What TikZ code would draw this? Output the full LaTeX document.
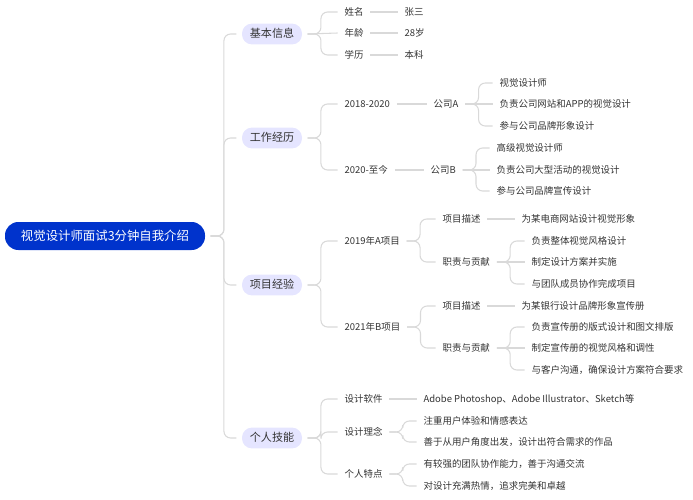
\documentclass[tikz,border=0pt]{standalone}
\usepackage{fontspec}
\setmainfont{Noto Sans CJK SC}
\begin{document}
\begin{tikzpicture}[
        x=0.75pt, y=-0.75pt,
        font=\fontsize{7.1}{9}\selectfont,
        root/.style={rounded corners=10pt, fill=blue!75!cyan!80!black, text=white, minimum width=150pt, minimum height=21pt, font=\fontsize{9.3}{11}\selectfont},
        topic/.style={rounded corners=7.5pt, fill=blue!10, text=black!80, minimum width=45pt, minimum height=15pt, text height=7pt, text depth=2pt, font=\fontsize{8.3}{10}\selectfont},
        item/.style={anchor=west, text=black!80, inner sep=1pt, text height=6.5pt, text depth=1.5pt},
        link/.style={draw=black!15, line width=0.8pt, rounded corners=5pt}
    ]
        \useasboundingbox (0,0) rectangle (693,500);

        % Root and topics
        \node[root] (root) at (105,236) {视觉设计师面试3分钟自我介绍};
        \node[topic] (basic) at (272,34) {基本信息};
        \node[topic] (work) at (272,138) {工作经历};
        \node[topic] (proj) at (272,285) {项目经验};
        \node[topic] (skill) at (272,438) {个人技能};

        % Basic info
        \node[item] (name) at (343,12) {姓名};
        \node[item] (age) at (343,33) {年龄};
        \node[item] (edu) at (343,55) {学历};
        \node[item] (namev) at (403,12) {张三};
        \node[item] (agev) at (403,33) {28岁};
        \node[item] (eduv) at (403,55) {本科};

        % Work
        \node[item] (y1) at (343,104) {2018-2020};
        \node[item] (ca) at (432,104) {公司A};
        \node[item] (ca1) at (498,83) {视觉设计师};
        \node[item] (ca2) at (498,104) {负责公司网站和APP的视觉设计};
        \node[item] (ca3) at (498,126) {参与公司品牌形象设计};
        \node[item] (y2) at (343,170) {2020-至今};
        \node[item] (cb) at (429,170) {公司B};
        \node[item] (cb1) at (495,148) {高级视觉设计师};
        \node[item] (cb2) at (495,170) {负责公司大型活动的视觉设计};
        \node[item] (cb3) at (495,191) {参与公司品牌宣传设计};

        % Projects
        \node[item] (pa) at (343,241) {2019年A项目};
        \node[item] (pad) at (441,219) {项目描述};
        \node[item] (pad1) at (520,219) {为某电商网站设计视觉形象};
        \node[item] (par) at (441,262) {职责与贡献};
        \node[item] (par1) at (530,241) {负责整体视觉风格设计};
        \node[item] (par2) at (530,262) {制定设计方案并实施};
        \node[item] (par3) at (530,284) {与团队成员协作完成项目};
        \node[item] (pb) at (343,327) {2021年B项目};
        \node[item] (pbd) at (441,306) {项目描述};
        \node[item] (pbd1) at (520,306) {为某银行设计品牌形象宣传册};
        \node[item] (pbr) at (441,348) {职责与贡献};
        \node[item] (pbr1) at (530,327) {负责宣传册的版式设计和图文排版};
        \node[item] (pbr2) at (530,348) {制定宣传册的视觉风格和调性};
        \node[item] (pbr3) at (530,370) {与客户沟通，确保设计方案符合要求};

        % Skills
        \node[item] (sw) at (343,399) {设计软件};
        \node[item] (sw1) at (422,399) {Adobe Photoshop、Adobe Illustrator、Sketch等};
        \node[item] (idea) at (343,432) {设计理念};
        \node[item] (idea1) at (422,421) {注重用户体验和情感表达};
        \node[item] (idea2) at (422,442) {善于从用户角度出发，设计出符合需求的作品};
        \node[item] (trait) at (343,474) {个人特点};
        \node[item] (trait1) at (422,464) {有较强的团队协作能力，善于沟通交流};
        \node[item] (trait2) at (422,486) {对设计充满热情，追求完美和卓越};

        % Branching links
        \foreach \p/\c in {root/basic, root/work, root/proj, root/skill,
                basic/name, basic/edu, work/y1, work/y2,
                ca/ca1, ca/ca3, cb/cb1, cb/cb3,
                proj/pa, proj/pb, pa/pad, pa/par, par/par1, par/par3,
                pb/pbd, pb/pbr, pbr/pbr1, pbr/pbr3,
                skill/sw, skill/idea, skill/trait, idea/idea1, idea/idea2, trait/trait1, trait/trait2}
            \draw[link] ([xshift=4pt]\p.east) -- ++(10pt,0) |- ([xshift=-4pt]\c.west);
        % Straight links
        \foreach \p/\c in {basic/age, name/namev, age/agev, edu/eduv, y1/ca, y2/cb,
                ca/ca2, cb/cb2, pad/pad1, par/par2, pbd/pbd1, pbr/pbr2, sw/sw1}
            \draw[link] ([xshift=4pt]\p.east) -- ([xshift=-4pt]\c.west);
    \end{tikzpicture}
\end{document}
